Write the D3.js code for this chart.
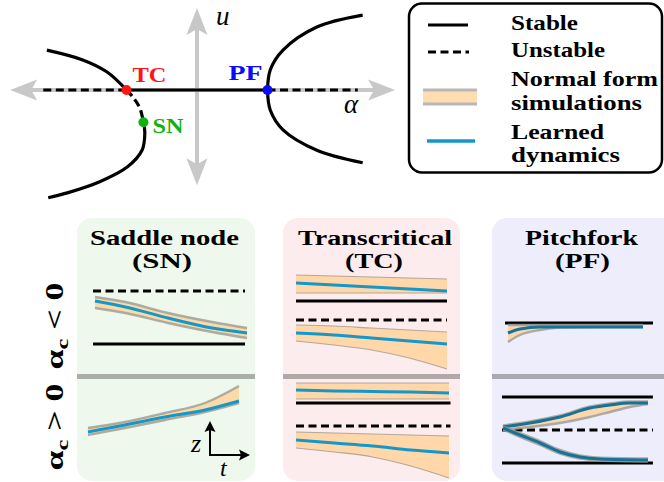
<!DOCTYPE html>
<html>
<head>
<meta charset="utf-8">
<script src="https://cdn.jsdelivr.net/npm/d3@7"></script>
<style>
  body { margin: 0; background: #fff; }
  svg { display: block; }
</style>
</head>
<body>
<svg id="fig" width="664" height="482"></svg>
<script>

// ---------- data: bifurcation sketch, points are [alpha, u] ----------
var axisAlpha = [-2.65, 2.81];
var axisU = [1.17, -1.36];
var stableBranch = [[-1, 0], [1, 0]];
var unstableBranches = [[[-2.18, 0], [-1, 0]], [[1, 0], [2.28, 0]]];
var leftUpper = [[-2.13, 0.57], [-1.62, 0.43], [-1.28, 0.26], [-1, 0]];
var leftUnstable = [[-1, 0], [-0.91, -0.10], [-0.81, -0.26], [-0.76, -0.46]];
var leftLower = [[-0.76, -0.46], [-0.74, -0.61], [-0.78, -0.86], [-0.99, -1.10], [-1.38, -1.31], [-1.84, -1.47], [-2.11, -1.54]];
var rightUpper = [[1, 0], [1.04, 0.29], [1.22, 0.57], [1.70, 0.90], [2.35, 1.07]];
var rightLower = [[1, 0], [1.04, -0.29], [1.22, -0.57], [1.70, -0.86], [2.35, -1.04]];
var bifNames = ['TC', 'SN', 'PF'];
var bifAlpha = [-1, -0.76, 1];
var bifU = [0, -0.46, 0];

var legendLabels = [['Stable'], ['Unstable'], ['Normal form', 'simulations'], ['Learned', 'dynamics']];
var panelTitles = [['Saddle node', '(SN)'], ['Transcritical', '(TC)'], ['Pitchfork', '(PF)']];

// ---------- data: trajectories, t in [0,1], z = height in the row ----------
// saddle node, alpha_c < 0
var snNegT = [0, 0.2, 0.48, 0.77, 1];
var snNegLearned = [69, 63, 52, 42, 37];
var snNegHi = [73, 68, 57, 48, 42];
var snNegLo = [62, 57, 47, 38, 32];
var snNegStable = [26];
var snNegUnstable = [79];
// saddle node, alpha_c > 0
var snPosT = [0, 0.245, 0.51, 0.775, 1];
var snPosLearned = [48, 55, 63, 70, 79];
var snPosHi = [52, 58, 67, 77, 94];
var snPosLo = [45, 52, 60, 68, 77];

// transcritical
var tcT = [0, 0.25, 0.5, 0.75, 1];
var tcNegStable = [69];
var tcNegUnstable = [50];
var tcNegAHi = [95, 94, 93, 92, 91];
var tcNegALo = [77, 77, 77, 77, 77];
var tcNegALearned = [87, 85, 83, 81, 79];
var tcNegBHi = [45, 44, 42, 40, 38];
var tcNegBLo = [29, 25, 20, 12, 1];
var tcNegBLearned = [37, 35, 32, 29, 26];
var tcPosStable = [77];
var tcPosUnstable = [54];
var tcPosAHi = [97, 97, 97, 97, 97];
var tcPosALo = [81, 81, 81, 81, 81];
var tcPosALearned = [90, 89, 88.5, 88, 87];
var tcPosBHi = [48, 47, 46, 45, 44];
var tcPosBLo = [32, 28, 23, 14, 2];
var tcPosBLearned = [40, 37, 34, 30, 27];

// pitchfork
var pfNegT = [0, 0.089, 0.237, 0.385, 0.681, 1];
var pfNegLearned = [37, 41, 43, 43, 43, 43];
var pfNegHi = [45, 45, 45, 45, 45, 45];
var pfNegLo = [28, 35, 40, 42.5, 43, 43];
var pfNegStable = [47];
var pfPosStable = [83, 17];
var pfPosUnstable = [50];
var pfUpT = [0, 0.186, 0.393, 0.6, 0.738, 0.876, 1];
var pfUpLearned = [53, 57, 63, 72, 75, 77, 77];
var pfUpHi = [54.5, 58.5, 64.5, 73.5, 76.5, 78.5, 78.5];
var pfUpLo = [50, 53, 57, 63, 68, 73, 76];
var pfDownT = [0, 0.117, 0.255, 0.393, 0.531, 0.669, 1];
var pfDownLearned = [52, 45, 37, 28, 23, 21, 20];
var pfDownHi = [53.5, 47, 39, 30, 24.5, 22.2, 21.5];
var pfDownLo = [50.5, 43, 35, 26.5, 21.5, 19.5, 18.5];

// ---------- styles ----------
var serifBold = "'Liberation Serif', 'DejaVu Serif', 'Times New Roman', serif";
var mathFont = "'Liberation Serif', 'DejaVu Serif', serif";
var blue = '#1597c9';
var darkBlue = '#17729a';
var beige = '#ffcf8f';
var bandEdge = '#9d9a92';
var arrowGrey = '#c8c8c8';
var bifColors = { TC: '#ff1515', SN: '#0fb30f', PF: '#0a0aff' };

var svg = d3.select('#fig');

// bold text block: one <text>, one stretched <tspan> per line
function boldBlock(g, xs, ys, lines, size, widths, anchor) {
  var t = g.append('text')
    .attr('text-anchor', anchor || 'start')
    .attr('font-family', serifBold).attr('font-weight', 'bold').attr('font-size', size);
  lines.forEach(function (s, j) {
    t.append('tspan').attr('x', xs[j]).attr('y', ys[j])
      .attr('textLength', widths[j]).attr('lengthAdjust', 'spacingAndGlyphs')
      .text(s);
  });
  return t;
}

// stealth style arrow head, tip at [x,y], pointing along dir
function arrowHead(g, tip, dir, len, half, notch, color) {
  var px = -dir[1], py = dir[0];
  var bx = tip[0] - dir[0] * len, by = tip[1] - dir[1] * len;
  var nx = tip[0] - dir[0] * (len - notch), ny = tip[1] - dir[1] * (len - notch);
  g.append('path')
    .attr('d', 'M' + tip[0] + ',' + tip[1] +
      'L' + (bx + px * half) + ',' + (by + py * half) +
      'L' + nx + ',' + ny +
      'L' + (bx - px * half) + ',' + (by - py * half) + 'Z')
    .attr('fill', color);
}

// ---------- top sketch ----------
var xa = d3.scaleLinear().domain([0, 1]).range([197, 267.5]);
var yu = d3.scaleLinear().domain([0, 1]).range([90, 20]);
var sketch = svg.append('g');

sketch.append('line')
  .attr('x1', xa(axisAlpha[0]) + 10).attr('x2', xa(axisAlpha[1]) - 10)
  .attr('y1', yu(0)).attr('y2', yu(0))
  .attr('stroke', arrowGrey).attr('stroke-width', 4);
arrowHead(sketch, [xa(axisAlpha[0]), yu(0)], [-1, 0], 27, 10.5, 6, arrowGrey);
arrowHead(sketch, [xa(axisAlpha[1]), yu(0)], [1, 0], 27, 10.5, 6, arrowGrey);
sketch.append('line')
  .attr('x1', xa(0)).attr('x2', xa(0))
  .attr('y1', yu(axisU[0]) + 10).attr('y2', yu(axisU[1]) - 10)
  .attr('stroke', arrowGrey).attr('stroke-width', 4);
arrowHead(sketch, [xa(0), yu(axisU[0])], [0, -1], 27, 10.5, 6, arrowGrey);
arrowHead(sketch, [xa(0), yu(axisU[1])], [0, 1], 27, 10.5, 6, arrowGrey);

var sketchLine = d3.line().x(function (d) { return xa(d[0]); }).y(function (d) { return yu(d[1]); })
  .curve(d3.curveCatmullRom);

[leftUpper, leftLower, rightUpper, rightLower, stableBranch].forEach(function (pts) {
  sketch.append('path').attr('d', sketchLine(pts))
    .attr('fill', 'none').attr('stroke', '#000').attr('stroke-width', 3.2);
});
unstableBranches.concat([leftUnstable]).forEach(function (pts) {
  sketch.append('path').attr('d', sketchLine(pts))
    .attr('fill', 'none').attr('stroke', '#000').attr('stroke-width', 3.2)
    .attr('stroke-dasharray', '8,4.5');
});

var labelOffsets = { TC: [6, -8], SN: [9, 11], PF: [-39, -10] };
var labelWidths = { TC: 34, SN: 31, PF: 34 };
bifNames.forEach(function (name, i) {
  var cx = xa(bifAlpha[i]), cy = yu(bifU[i]);
  sketch.append('circle').attr('cx', cx).attr('cy', cy).attr('r', 5)
    .attr('fill', bifColors[name]);
  boldBlock(sketch, [cx + labelOffsets[name][0]], [cy + labelOffsets[name][1]], [name], 21, [labelWidths[name]])
    .attr('fill', bifColors[name]);
});

sketch.append('text').attr('x', 216).attr('y', 25)
  .attr('font-family', mathFont).attr('font-style', 'italic').attr('font-size', 27).text('u');
sketch.append('text').attr('x', 344).attr('y', 113)
  .attr('font-family', mathFont).attr('font-style', 'italic').attr('font-size', 27).text('α');

// ---------- legend ----------
var legend = svg.append('g');
legend.append('rect').attr('x', 409).attr('y', 3.5).attr('width', 253).attr('height', 169)
  .attr('rx', 13).attr('fill', '#fff').attr('stroke', '#000').attr('stroke-width', 2.5);

legend.append('line').attr('x1', 428).attr('x2', 468).attr('y1', 25).attr('y2', 25)
  .attr('stroke', '#000').attr('stroke-width', 3.2);
legend.append('line').attr('x1', 428).attr('x2', 469).attr('y1', 52).attr('y2', 52)
  .attr('stroke', '#000').attr('stroke-width', 3.2).attr('stroke-dasharray', '8,4.5');
legend.append('rect').attr('x', 423).attr('y', 91).attr('width', 54).attr('height', 12)
  .attr('fill', beige).attr('opacity', 0.7);
[90, 104].forEach(function (y) {
  legend.append('line').attr('x1', 423).attr('x2', 477).attr('y1', y).attr('y2', y)
    .attr('stroke', '#b8b8b8').attr('stroke-width', 3);
});
legend.append('line').attr('x1', 427).attr('x2', 475).attr('y1', 141).attr('y2', 141)
  .attr('stroke', blue).attr('stroke-width', 3.5);

var legendBaselines = [[30], [57], [86, 110], [139, 162]];
var legendWidths = [[67], [94], [147, 131], [93, 109]];
legendLabels.forEach(function (lines, i) {
  boldBlock(legend, lines.map(function () { return 511; }), legendBaselines[i], lines, 21, legendWidths[i]);
});

// ---------- bottom panels ----------
var row1Y = d3.scaleLinear().domain([0, 90]).range([370, 280]);
var row2Y = d3.scaleLinear().domain([0, 100]).range([480, 380]);

var panels = [
  { x0: 77, x1: 255, fill: '#eef8ec', sep: '#a9aea6', title: panelTitles[0], cx: [164.5, 162], tw: [149, 60],
    rows: [
      { range: [95, 247], y: row1Y, stable: snNegStable, unstable: snNegUnstable, ext: [-0.013, 0.987],
        bands: [{ t: snNegT, hi: snNegHi, lo: snNegLo, learned: snNegLearned }] },
      { range: [88, 239], y: row2Y, stable: [], unstable: [], ext: [0, 1],
        bands: [{ t: snPosT, hi: snPosHi, lo: snPosLo, learned: snPosLearned }] }
    ], edge: 2.4, lineColor: blue },
  { x0: 283, x1: 460, fill: '#fdeced', sep: '#b1a9a9', title: panelTitles[1], cx: [375, 374], tw: [154, 58],
    rows: [
      { range: [296, 447], y: row1Y, stable: tcNegStable, unstable: tcNegUnstable, ext: [0, 1],
        bands: [{ t: tcT, hi: tcNegAHi, lo: tcNegALo, learned: tcNegALearned },
                { t: tcT, hi: tcNegBHi, lo: tcNegBLo, learned: tcNegBLearned }] },
      { range: [296, 449], y: row2Y, stable: tcPosStable, unstable: tcPosUnstable, ext: [0, 1.01],
        bands: [{ t: tcT, hi: tcPosAHi, lo: tcPosALo, learned: tcPosALearned },
                { t: tcT, hi: tcPosBHi, lo: tcPosBLo, learned: tcPosBLearned }] }
    ], edge: 1.2, lineColor: blue },
  { x0: 492, x1: 720, fill: '#ededfb', sep: '#a9a9b4', title: panelTitles[2], cx: [581.5, 582.5], tw: [113, 55],
    rows: [
      { range: [508, 643], y: row1Y, stable: pfNegStable, unstable: [], ext: [-0.022, 1.074],
        bands: [{ t: pfNegT, hi: pfNegHi, lo: pfNegLo, learned: pfNegLearned }] },
      { range: [503, 648], y: row2Y, stable: pfPosStable, unstable: pfPosUnstable, ext: [-0.007, 1.034],
        bands: [{ t: pfUpT, hi: pfUpHi, lo: pfUpLo, learned: pfUpLearned },
                { t: pfDownT, hi: pfDownHi, lo: pfDownLo, learned: pfDownLearned }] }
    ], edge: 2.4, lineColor: darkBlue }
];

panels.forEach(function (p) {
  var g = svg.append('g');
  g.append('rect').attr('x', p.x0).attr('y', 218).attr('width', p.x1 - p.x0).attr('height', 263)
    .attr('rx', 15).attr('fill', p.fill);
  g.append('rect').attr('x', p.x0).attr('y', 374).attr('width', p.x1 - p.x0).attr('height', 5)
    .attr('fill', p.sep);

  boldBlock(g, p.cx, [244.8, 267.6], p.title, 20.4, p.tw, 'middle');

  p.rows.forEach(function (r) {
    var x = d3.scaleLinear().domain([0, 1]).range(r.range);
    var y = r.y;
    r.stable.forEach(function (z) {
      g.append('line').attr('x1', x(r.ext[0])).attr('x2', x(r.ext[1]))
        .attr('y1', y(z)).attr('y2', y(z))
        .attr('stroke', '#000').attr('stroke-width', 3.2);
    });
    r.unstable.forEach(function (z) {
      g.append('line').attr('x1', x(r.ext[0])).attr('x2', x(r.ext[1]))
        .attr('y1', y(z)).attr('y2', y(z))
        .attr('stroke', '#000').attr('stroke-width', 3.2).attr('stroke-dasharray', '8,4.5');
    });
    r.bands.forEach(function (b) {
      var idx = d3.range(b.t.length);
      var area = d3.area().x(function (i) { return x(b.t[i]); })
        .y0(function (i) { return y(b.lo[i]); })
        .y1(function (i) { return y(b.hi[i]); })
        .curve(d3.curveMonotoneX);
      var edgeHi = d3.line().x(function (i) { return x(b.t[i]); }).y(function (i) { return y(b.hi[i]); })
        .curve(d3.curveMonotoneX);
      var edgeLo = d3.line().x(function (i) { return x(b.t[i]); }).y(function (i) { return y(b.lo[i]); })
        .curve(d3.curveMonotoneX);
      var mid = d3.line().x(function (i) { return x(b.t[i]); }).y(function (i) { return y(b.learned[i]); })
        .curve(d3.curveMonotoneX);
      g.append('path').attr('d', area(idx)).attr('fill', beige).attr('opacity', 0.72);
      [edgeHi, edgeLo].forEach(function (e) {
        g.append('path').attr('d', e(idx)).attr('fill', 'none')
          .attr('stroke', bandEdge).attr('stroke-opacity', 0.8).attr('stroke-width', p.edge);
      });
      g.append('path').attr('d', mid(idx)).attr('fill', 'none')
        .attr('stroke', p.lineColor).attr('stroke-width', 3);
    });
  });
});

// row labels (rotated)
var rowCenters = [326, 427];
var rowSigns = ['<', '>'];
rowCenters.forEach(function (cy, i) {
  var t = svg.append('text')
    .attr('transform', 'translate(63,' + cy + ') rotate(-90)')
    .attr('text-anchor', 'middle')
    .attr('font-family', serifBold).attr('font-weight', 'bold').attr('font-size', 25)
    .attr('textLength', 87).attr('lengthAdjust', 'spacingAndGlyphs');
  t.append('tspan').text('α');
  t.append('tspan').attr('font-size', 17).attr('dy', 5).text('c');
  t.append('tspan').attr('dy', -5).text(' ' + rowSigns[i] + ' 0');
});

// z / t axes in saddle node panel
var axes = svg.append('g');
axes.append('line').attr('x1', 210).attr('x2', 210).attr('y1', 456).attr('y2', 428)
  .attr('stroke', '#000').attr('stroke-width', 2);
axes.append('line').attr('x1', 209).attr('x2', 243).attr('y1', 455).attr('y2', 455)
  .attr('stroke', '#000').attr('stroke-width', 2);
arrowHead(axes, [210, 421], [0, -1], 11, 5.5, 2, '#000');
arrowHead(axes, [250, 455], [1, 0], 11, 5.5, 2, '#000');
axes.append('text').attr('x', 191).attr('y', 452)
  .attr('font-family', mathFont).attr('font-style', 'italic').attr('font-size', 26).text('z');
axes.append('text').attr('x', 220).attr('y', 476)
  .attr('font-family', mathFont).attr('font-style', 'italic').attr('font-size', 24).text('t');

</script>
</body>
</html>
